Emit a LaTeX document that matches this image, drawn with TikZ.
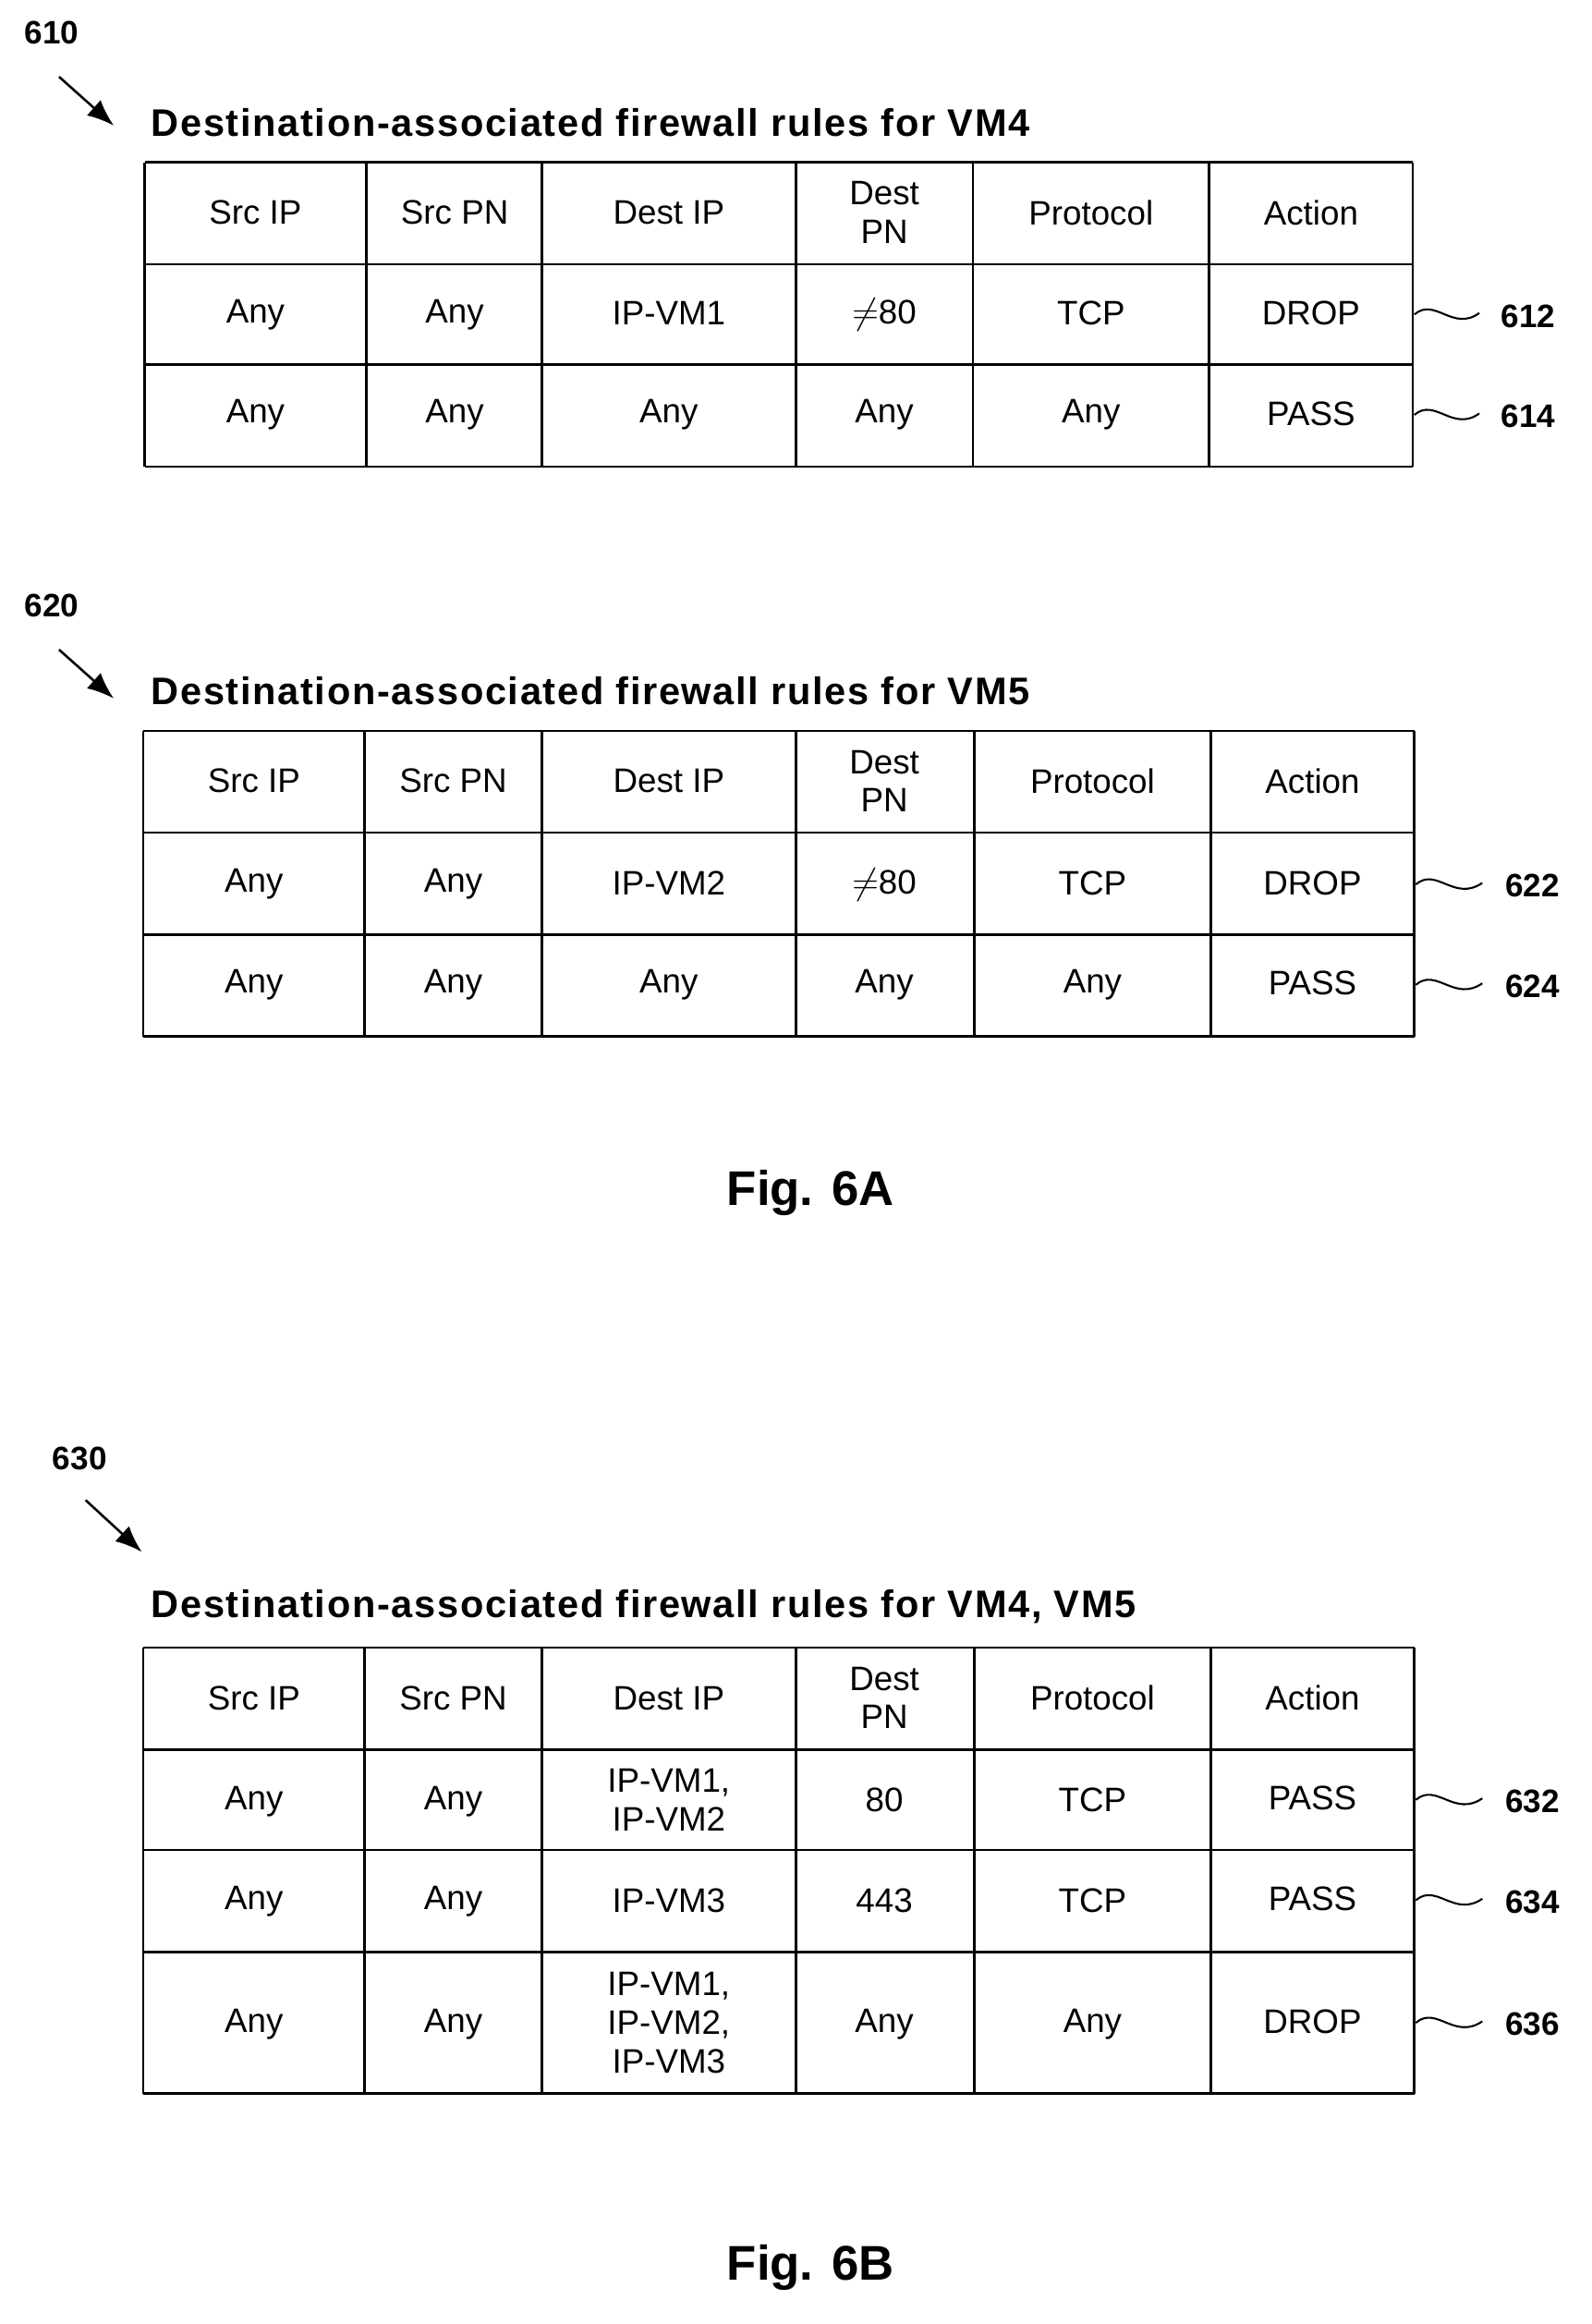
\documentclass[tikz,border=0pt]{standalone}
\usepackage{fontspec}
\setmainfont{Liberation Sans}
\usetikzlibrary{arrows.meta}
\begin{document}
\begin{tikzpicture}[x=1pt,y=-1pt,
  cell/.style={font=\fontsize{23}{26}\selectfont,align=center},
  ttl/.style={font=\bfseries\fontsize{26}{30}\selectfont,anchor=west},
  lab/.style={font=\bfseries\fontsize{22}{26}\selectfont},
  fig/.style={font=\bfseries\fontsize{33}{38}\selectfont},
  grid/.style={line width=1.6pt},
  ptr/.style={line width=1.6pt,-{Latex[length=18pt,width=14pt]}},
  wave/.style={line width=1.3pt}]
\useasboundingbox (0,0) rectangle (1078,1574);
% ---------- Table 610 ----------
\node[lab] (l610) at (35,22) {610};
\draw[ptr] (40,52) -- (77,85);
\node[ttl] (t610) at (99,83) {\addfontfeature{LetterSpace=4}Destination-associated firewall rules for VM4};
\foreach \y in {110,179,247,316} \draw[grid] (98,\y) -- (957,\y);
\foreach \x in {98,248,367,539,659,819,957} \draw[grid] (\x,110) -- (\x,316);
\node[cell] at (173,144) {Src IP};
\node[cell] at (308,144) {Src PN};
\node[cell] at (453,144) {Dest IP};
\node[cell] at (599,144) {Dest\\PN};
\node[cell] at (739,144) {Protocol};
\node[cell] at (888,144) {Action};
\node[cell] at (173,213) {Any};
\node[cell] at (308,213) {Any};
\node[cell] at (453,212) {IP-VM1};
\node[cell] at (599,213) {$\neq$80};
\node[cell] at (739,212) {TCP};
\node[cell] at (888,212) {DROP};
\node[cell] at (173,281) {Any};
\node[cell] at (308,281) {Any};
\node[cell] at (453,281) {Any};
\node[cell] at (599,281) {Any};
\node[cell] at (739,281) {Any};
\node[cell] at (888,280) {PASS};
\node[lab] (l612) at (1035,214) {612};
\node[lab] (l614) at (1035,282) {614};
\draw[wave] (958,213) .. controls (972,201) and (984,225) .. (1002,212);
\draw[wave] (958,281) .. controls (972,269) and (984,293) .. (1002,280);
% ---------- Table 620 ----------
\node[lab] (l620) at (35,410) {620};
\draw[ptr] (40,440) -- (77,473);
\node[ttl] (t620) at (99,468) {\addfontfeature{LetterSpace=4}Destination-associated firewall rules for VM5};
\foreach \y in {495,564,633,702} \draw[grid] (97,\y) -- (958,\y);
\foreach \x in {97,247,367,539,660,820,958} \draw[grid] (\x,495) -- (\x,702);
\node[cell] at (172,529) {Src IP};
\node[cell] at (307,529) {Src PN};
\node[cell] at (453,529) {Dest IP};
\node[cell] at (599,529) {Dest\\PN};
\node[cell] at (740,529) {Protocol};
\node[cell] at (889,529) {Action};
\node[cell] at (172,599) {Any};
\node[cell] at (307,599) {Any};
\node[cell] at (453,598) {IP-VM2};
\node[cell] at (599,599) {$\neq$80};
\node[cell] at (740,598) {TCP};
\node[cell] at (889,598) {DROP};
\node[cell] at (172,667) {Any};
\node[cell] at (307,667) {Any};
\node[cell] at (453,667) {Any};
\node[cell] at (599,667) {Any};
\node[cell] at (740,667) {Any};
\node[cell] at (889,666) {PASS};
\node[lab] (l622) at (1038,600) {622};
\node[lab] (l624) at (1038,668) {624};
\draw[wave] (959,599) .. controls (973,587) and (985,611) .. (1004,598);
\draw[wave] (959,667) .. controls (973,655) and (985,679) .. (1004,666);
\node[fig] (f6a) at (549,808) {Fig. 6A};
% ---------- Table 630 ----------
\node[lab] (l630) at (54,988) {630};
\draw[ptr] (58,1016) -- (96,1051);
\node[ttl] (t630) at (99,1088) {\addfontfeature{LetterSpace=4}Destination-associated firewall rules for VM4, VM5};
\foreach \y in {1116,1185,1253,1322,1418} \draw[grid] (97,\y) -- (958,\y);
\foreach \x in {97,247,367,539,660,820,958} \draw[grid] (\x,1116) -- (\x,1418);
\node[cell] at (172,1150) {Src IP};
\node[cell] at (307,1150) {Src PN};
\node[cell] at (453,1150) {Dest IP};
\node[cell] at (599,1150) {Dest\\PN};
\node[cell] at (740,1150) {Protocol};
\node[cell] at (889,1150) {Action};
\node[cell] at (172,1220) {Any};
\node[cell] at (307,1220) {Any};
\node[cell] at (453,1219) {IP-VM1,\\IP-VM2};
\node[cell] at (599,1219) {80};
\node[cell] at (740,1219) {TCP};
\node[cell] at (889,1218) {PASS};
\node[cell] at (172,1288) {Any};
\node[cell] at (307,1288) {Any};
\node[cell] at (453,1287) {IP-VM3};
\node[cell] at (599,1287) {443};
\node[cell] at (740,1287) {TCP};
\node[cell] at (889,1286) {PASS};
\node[cell] at (172,1371) {Any};
\node[cell] at (307,1371) {Any};
\node[cell] at (453,1370) {IP-VM1,\\IP-VM2,\\IP-VM3};
\node[cell] at (599,1371) {Any};
\node[cell] at (740,1371) {Any};
\node[cell] at (889,1369) {DROP};
\node[lab] (l632) at (1038,1220) {632};
\node[lab] (l634) at (1038,1288) {634};
\node[lab] (l636) at (1038,1371) {636};
\draw[wave] (959,1219) .. controls (973,1207) and (985,1231) .. (1004,1218);
\draw[wave] (959,1287) .. controls (973,1275) and (985,1299) .. (1004,1286);
\draw[wave] (959,1370) .. controls (973,1358) and (985,1382) .. (1004,1369);
\node[fig] (f6b) at (549,1536) {Fig. 6B};
\end{tikzpicture}
\end{document}
